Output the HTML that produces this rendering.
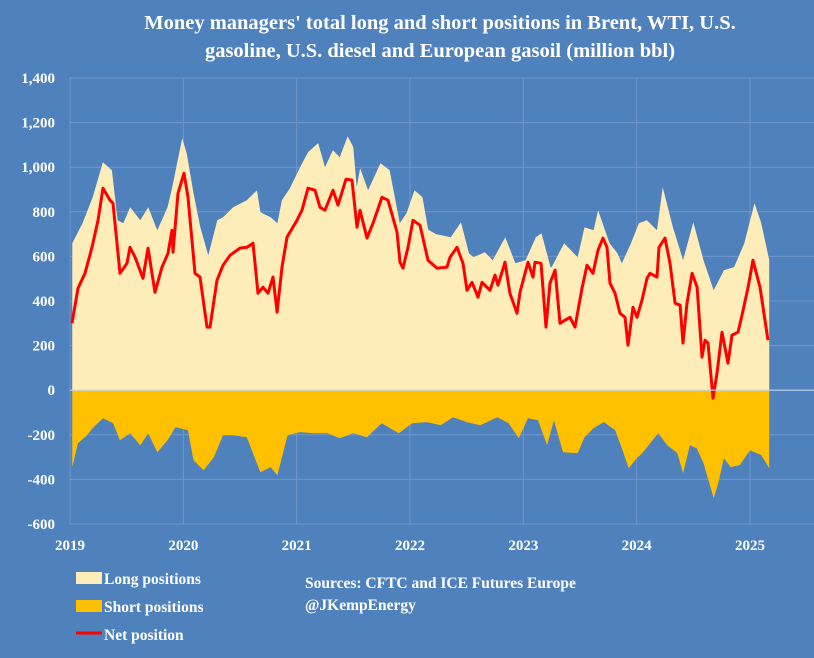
<!DOCTYPE html>
<html><head><meta charset="utf-8">
<style>
html,body{margin:0;padding:0;background:#4f81bd;}
body{width:814px;height:653px;overflow:hidden;font-family:"Liberation Serif",serif;}
svg text{font-family:"Liberation Serif",serif;fill:#fff;}
</style></head>
<body>
<svg id="chart" width="814" height="653">
<rect width="814" height="653" fill="#4f81bd"/>
<text x="440" y="29" text-anchor="middle" font-size="20.5" font-weight="bold">Money managers' total long and short positions in Brent, WTI, U.S.</text>
<text x="440" y="57" text-anchor="middle" font-size="20.5" font-weight="bold">gasoline, U.S. diesel and European gasoil  (million bbl)</text>
<g id="grid"></g><g id="marks"></g><g id="axes"></g>
<g>
<rect x="76" y="572" width="26" height="12" fill="#ffedb9"/>
<text x="104" y="584" font-size="15.5" font-weight="bold">Long positions</text>
<rect x="76" y="600" width="26" height="12" fill="#ffc000"/>
<text x="104" y="612" font-size="15.5" font-weight="bold">Short positions</text>
<line x1="76" y1="633" x2="102" y2="633" stroke="#ff0000" stroke-width="3"/>
<text x="104" y="640" font-size="15.5" font-weight="bold">Net position</text>
</g>
<text x="305" y="588" font-size="15.5" font-weight="bold">Sources: CFTC and ICE Futures Europe</text>
<text x="305" y="610" font-size="15.5" font-weight="bold">@JKempEnergy</text>
</svg>
<script>
const yTicks=[-600,-400,-200,0,200,400,600,800,1000,1200,1400];
const yTickLabels=["-600","-400","-200","0","200","400","600","800","1,000","1,200","1,400"];
const xTicks=[2019,2020,2021,2022,2023,2024,2025];
const longX=[2019.02,2019.11,2019.2,2019.29,2019.37,2019.42,2019.47,2019.53,2019.62,2019.69,2019.77,2019.86,2019.9,2019.99,2020.03,2020.09,2020.15,2020.22,2020.3,2020.35,2020.44,2020.56,2020.65,2020.68,2020.77,2020.83,2020.87,2020.94,2021.03,2021.1,2021.19,2021.25,2021.32,2021.38,2021.45,2021.5,2021.53,2021.56,2021.63,2021.74,2021.82,2021.91,2021.97,2022.04,2022.11,2022.16,2022.23,2022.36,2022.45,2022.52,2022.56,2022.66,2022.73,2022.84,2022.93,2023.02,2023.11,2023.16,2023.24,2023.25,2023.36,2023.48,2023.54,2023.62,2023.66,2023.76,2023.83,2023.87,2023.95,2024.02,2024.09,2024.18,2024.23,2024.32,2024.41,2024.5,2024.59,2024.68,2024.77,2024.86,2024.95,2025.04,2025.1,2025.17];
const longVals=[659,749,865,1022,986,762,749,820,762,820,717,820,906,1130,1063,883,731,605,762,776,820,852,897,798,776,749,852,906,1000,1067,1108,1000,1076,1045,1139,1090,910,995,897,1018,986,749,794,897,865,720,700,686,753,614,596,619,583,686,569,583,686,704,552,552,659,596,731,717,807,659,614,569,659,749,762,717,910,731,583,753,583,448,538,552,659,838,749,583];
const netX=[2019.018,2019.071,2019.132,2019.194,2019.247,2019.291,2019.353,2019.379,2019.441,2019.503,
2019.529,2019.574,2019.644,2019.688,2019.750,2019.812,2019.865,2019.900,2019.909,2019.953,
2020.006,2020.041,2020.103,2020.147,2020.209,2020.235,2020.297,2020.350,2020.412,2020.500,
2020.562,2020.615,2020.659,2020.703,2020.747,2020.791,2020.827,2020.871,2020.915,2021.003,
2021.047,2021.100,2021.162,2021.206,2021.250,2021.321,2021.365,2021.435,2021.488,2021.532,
2021.559,2021.621,2021.674,2021.753,2021.806,2021.885,2021.912,2021.938,2021.982,2022.027,
2022.088,2022.159,2022.238,2022.327,2022.353,2022.415,2022.468,2022.503,2022.547,2022.600,
2022.635,2022.706,2022.750,2022.777,2022.838,2022.882,2022.944,2022.971,2023.041,2023.085,
2023.103,2023.156,2023.200,2023.235,2023.280,2023.324,2023.368,2023.412,2023.456,2023.518,
2023.562,2023.615,2023.659,2023.703,2023.738,2023.765,2023.809,2023.853,2023.897,2023.924,
2023.968,2024.003,2024.047,2024.091,2024.118,2024.180,2024.197,2024.250,2024.294,2024.339,
2024.383,2024.409,2024.444,2024.489,2024.533,2024.577,2024.603,2024.630,2024.674,2024.709,
2024.753,2024.806,2024.841,2024.894,2024.930,2024.983,2025.027,2025.088,2025.159];
const netVals=[300,457,524,641,762,906,852,838,524,569,
641,596,502,637,439,552,614,717,619,883,
973,865,524,507,283,283,493,560,605,637,
641,659,435,462,435,507,350,552,686,762,
807,906,897,820,807,897,830,946,942,731,
807,682,749,865,852,709,574,547,641,762,
740,583,547,552,596,641,569,448,484,417,
484,448,516,471,574,435,345,439,574,507,
574,569,283,480,538,300,314,327,283,457,
560,524,628,682,641,480,435,345,327,202,
372,327,404,502,524,507,641,682,569,390,
381,211,390,524,462,148,224,211,-36,76,
260,121,247,260,336,462,583,462,224];
const shortX=[2019.02,2019.07,2019.15,2019.2,2019.29,2019.38,2019.44,2019.53,2019.62,2019.69,2019.77,2019.86,2019.93,2020.04,2020.09,2020.18,2020.27,2020.35,2020.44,2020.56,2020.68,2020.77,2020.83,2020.92,2021.03,2021.15,2021.27,2021.38,2021.5,2021.62,2021.75,2021.9,2022.02,2022.15,2022.27,2022.38,2022.5,2022.62,2022.77,2022.87,2022.96,2023.04,2023.13,2023.21,2023.27,2023.35,2023.48,2023.54,2023.62,2023.71,2023.81,2023.87,2023.93,2024.0,2024.05,2024.12,2024.19,2024.27,2024.36,2024.41,2024.47,2024.53,2024.59,2024.68,2024.72,2024.77,2024.83,2024.91,2025.0,2025.1,2025.17];
const shortVals=[-345,-238,-202,-170,-126,-148,-224,-193,-247,-193,-278,-224,-166,-179,-314,-359,-300,-202,-202,-211,-368,-345,-381,-202,-188,-193,-193,-215,-193,-211,-148,-193,-148,-143,-157,-121,-143,-157,-121,-148,-215,-126,-135,-247,-135,-278,-282,-211,-170,-143,-179,-260,-350,-305,-282,-238,-193,-247,-282,-372,-247,-260,-327,-484,-417,-305,-345,-336,-269,-291,-350];

const NS="http://www.w3.org/2000/svg";
const L=70,R=814,T=78,B=524,X0=2019,PXY=113.33,Y0=-600,Y1=1400;
function xs(t){return L+(t-X0)*PXY;}
function ys(v){return B-(v-Y0)/(Y1-Y0)*(B-T);}
function mk(tag,attrs,parent){const e=document.createElementNS(NS,tag);for(const k in attrs)e.setAttribute(k,attrs[k]);parent.appendChild(e);return e;}
const grid=document.getElementById('grid'),marks=document.getElementById('marks'),axes=document.getElementById('axes');
yTicks.forEach((v,i)=>{
  if(v!==0){const g=mk('line',{x1:L,x2:R,y1:ys(v),y2:ys(v),stroke:'#7098cb','stroke-width':1},grid);
  
  }
  const t=mk('text',{x:55,y:ys(v)+5,'text-anchor':'end','font-size':15,'font-weight':'bold'},axes);
  t.textContent=yTickLabels[i];
  
  
});
xTicks.forEach(yr=>{
  const g=mk('line',{x1:xs(yr),x2:xs(yr),y1:T,y2:B,stroke:'#7098cb','stroke-width':1},grid);
  
  
  const t=mk('text',{x:xs(yr),y:B+26,'text-anchor':'middle','font-size':15,'font-weight':'bold'},axes);
  t.textContent=String(yr);
  
  
});
function area(xa,va){const n=Math.min(xa.length,va.length);let d='M'+xs(xa[0])+','+ys(0);for(let i=0;i<n;i++){d+='L'+xs(xa[i]).toFixed(1)+','+ys(va[i]).toFixed(1);}d+='L'+xs(xa[n-1])+','+ys(0)+'Z';return d;}
const la=mk('path',{d:area(longX,longVals),fill:'#ffedb9'},marks);


const sa=mk('path',{d:area(shortX,shortVals),fill:'#ffc000'},marks);


let nd='';const nn=Math.min(netX.length,netVals.length);
for(let i=0;i<nn;i++){nd+=(i?'L':'M')+xs(netX[i]).toFixed(1)+','+ys(netVals[i]).toFixed(1);}
const nl=mk('path',{d:nd,fill:'none',stroke:'#ff0000','stroke-width':3,'stroke-linejoin':'round'},marks);


const za=mk('line',{x1:L,x2:R,y1:ys(0),y2:ys(0),stroke:'#c8d6ea','stroke-width':1.2},axes);


</script>
</body></html>
